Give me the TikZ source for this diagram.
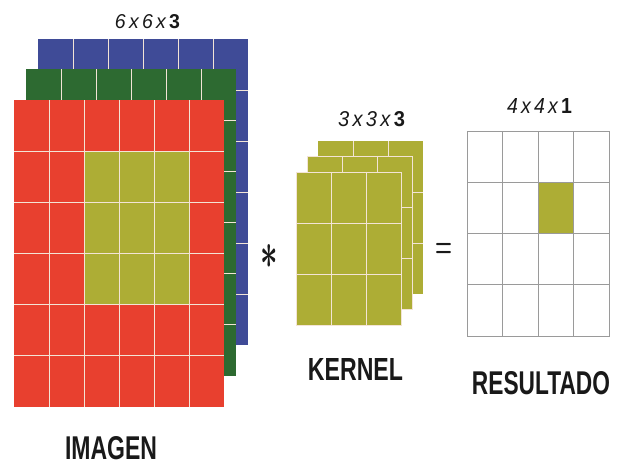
\documentclass[tikz,border=0pt]{standalone}
\usepackage{fontspec}
\setmainfont{Liberation Sans}
\usepackage{amsmath}
\usepackage{graphicx}
\definecolor{imgred}{HTML}{E8402F}
\definecolor{imggreen}{HTML}{2D6A31}
\definecolor{imgblue}{HTML}{3F4B97}
\definecolor{kolive}{HTML}{ADAD35}
\definecolor{cellline}{HTML}{F3E4D6}
\definecolor{resline}{HTML}{9A9A9A}
\tikzset{
  cellgrid/.style={draw=cellline,line width=1pt},
  resgrid/.style={draw=resline,line width=0.9pt},
  lbl/.style={inner sep=0pt,outer sep=0pt,text=black!90},
}
% x y ncols nrows cw ch style
\newcommand\mygridlines[7]{%
  \pgfmathtruncatemacro\myncm{#3-1}%
  \pgfmathtruncatemacro\mynrm{#4-1}%
  \foreach \i in {1,...,\myncm} {\draw[#7] ({#1+\i*#5},#2) -- ++(0,{#4*#6});}%
  \foreach \j in {1,...,\mynrm} {\draw[#7] (#1,{#2+\j*#6}) -- ++({#3*#5},0);}%
}
\newcommand\mylayer[7]{% x y colour ncols nrows cw ch
  \fill[#3] (#1,#2) rectangle ++({#4*#6},{#5*#7});%
}
\begin{document}
\begin{tikzpicture}[x=1pt,y=-1pt]
\useasboundingbox (0,0) rectangle (622,464);
\fill[white] (0,0) rectangle (622,464);

% image layers
\mylayer{38}{39}{imgblue}{6}{6}{35}{51}
\mygridlines{38}{39}{6}{6}{35}{51}{cellgrid}
\mylayer{26}{69}{imggreen}{6}{6}{35}{51.17}
\mygridlines{26}{69}{6}{6}{35}{51.17}{cellgrid}
\mylayer{14}{100}{imgred}{6}{6}{35}{51.17}
\fill[kolive] (84,151.17) rectangle (189,304.67);
\mygridlines{14}{100}{6}{6}{35}{51.17}{cellgrid}

% kernel layers
\mylayer{318}{141}{kolive}{3}{3}{35}{51}
\mygridlines{318}{141}{3}{3}{35}{51}{cellgrid}
\mylayer{307}{156}{kolive}{3}{3}{35}{51}
\draw[cellgrid] (307,156) rectangle ++(105,153);
\mygridlines{307}{156}{3}{3}{35}{51}{cellgrid}
\mylayer{296}{172}{kolive}{3}{3}{35}{51}
\draw[cellgrid] (296,172) rectangle ++(105,153);
\mygridlines{296}{172}{3}{3}{35}{51}{cellgrid}

% result
\fill[kolive] (538.3,182.3) rectangle (573.7,233.6);
\draw[resgrid] (467.5,131) rectangle ++(141.6,205.2);
\mygridlines{467.5}{131}{4}{4}{35.4}{51.3}{resgrid}

% labels
\node[lbl] (dimimg) at (147.5,22) {\resizebox{65pt}{14pt}{\itshape 6\,x\,6\,x\,\upshape\bfseries 3}};
\node[lbl] (dimker) at (371.5,119) {\resizebox{67pt}{15pt}{\itshape 3\,x\,3\,x\,\upshape\bfseries 3}};
\node[lbl] (dimres) at (539.5,105.5) {\resizebox{65pt}{15pt}{\itshape 4\,x\,4\,x\,\upshape\bfseries 1}};
\node[lbl] (imagen) at (111,448.5) {\resizebox{92pt}{23pt}{\bfseries IMAGEN}};
\node[lbl] (kernel) at (355.5,369) {\resizebox{95pt}{22pt}{\bfseries KERNEL}};
\node[lbl] (resultado) at (541,383.5) {\resizebox{138pt}{23pt}{\bfseries RESULTADO}};
\node[lbl] (conv) at (269.5,256) {\resizebox*{17.5pt}{24pt}{$\boldsymbol{\ast}$}};
\node[lbl] (equals) at (443.5,250) {\resizebox*{17pt}{14pt}{$\boldsymbol{=}$}};
\end{tikzpicture}
\end{document}
